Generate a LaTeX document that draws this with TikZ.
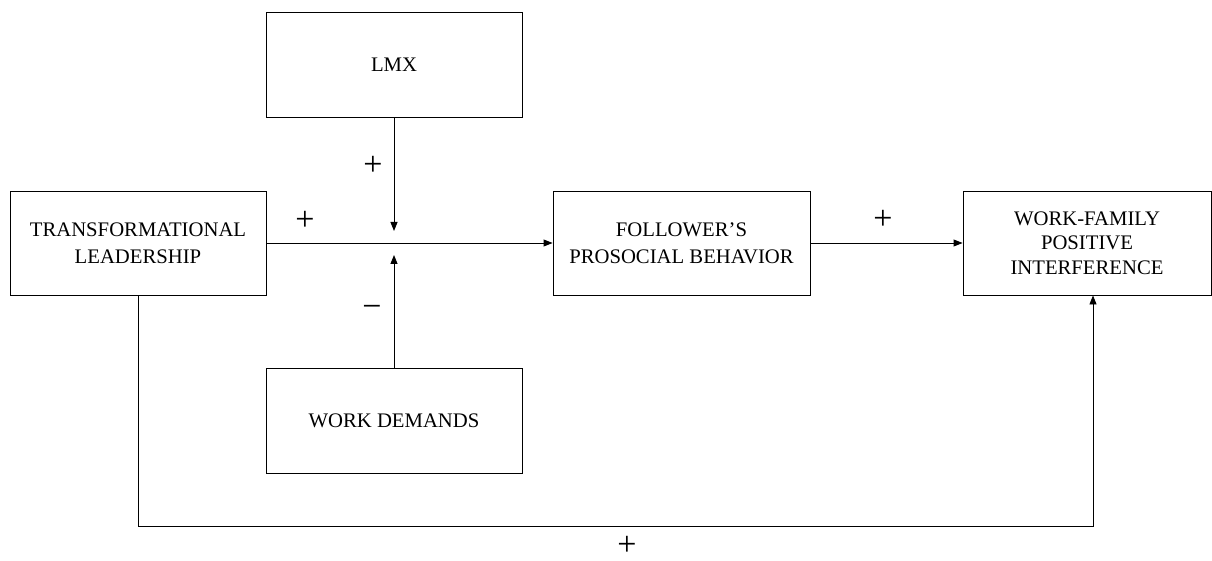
\documentclass[tikz,border=0pt]{standalone}
\usepackage{fontspec}
\setmainfont{Liberation Serif}
\usetikzlibrary{arrows.meta}

\begin{document}
\begin{tikzpicture}[x=1pt,y=-1pt,
  box/.style={draw=black, line width=0.9pt, rectangle, inner sep=0pt,
    minimum width=256pt, minimum height=104pt, align=center,
    font=\fontsize{20.7}{26.7}\selectfont},
  link/.style={draw=black, line width=0.9pt},
  arr/.style={link, -{Triangle[length=9pt,width=7pt]}},
  sign/.style={inner sep=0pt, font=\fontsize{34}{34}\selectfont}
]
\useasboundingbox (0,0) rectangle (1212,561);

% constructs
\node[box, minimum height=105pt] (lmx) at (394,65) {LMX};
\node[box] (tl) at (138,243) {TRANSFORMATIONAL\\LEADERSHIP};
\node[box, minimum width=257pt] (fpb) at (681.5,243) {FOLLOWER’S\\PROSOCIAL BEHAVIOR};
\node[box, minimum width=248pt, font=\fontsize{20.7}{24.5}\selectfont] (wfpi) at (1087,243)
  {WORK-FAMILY\\POSITIVE\\INTERFERENCE};
\node[box, minimum height=105pt] (wd) at (394,420.5) {WORK DEMANDS};

% moderator arrow ends and the lower path corners
\coordinate (lmxend) at (394,231);
\coordinate (wdend) at (394,255);
\coordinate (loopl) at (138,526);
\coordinate (loopr) at (1093,526);

% paths
\draw[arr] (tl.east) -- (fpb.west);
\draw[arr] (lmx.south) -- (lmxend);
\draw[arr] (wd.north) -- (wdend);
\draw[arr] (fpb.east) -- (wfpi.west);
\draw[arr] (tl.south) -- (loopl) -- (loopr) -- (wfpi.south -| loopr);

% signs
\node[sign] (s1) at (373,166) {+};
\node[sign] (s2) at (305,220.5) {+};
\node[sign] (s3) at (372,311.5) {−};
\node[sign] (s4) at (883,220) {+};
\node[sign] (s5) at (627,546) {+};
\end{tikzpicture}
\end{document}
